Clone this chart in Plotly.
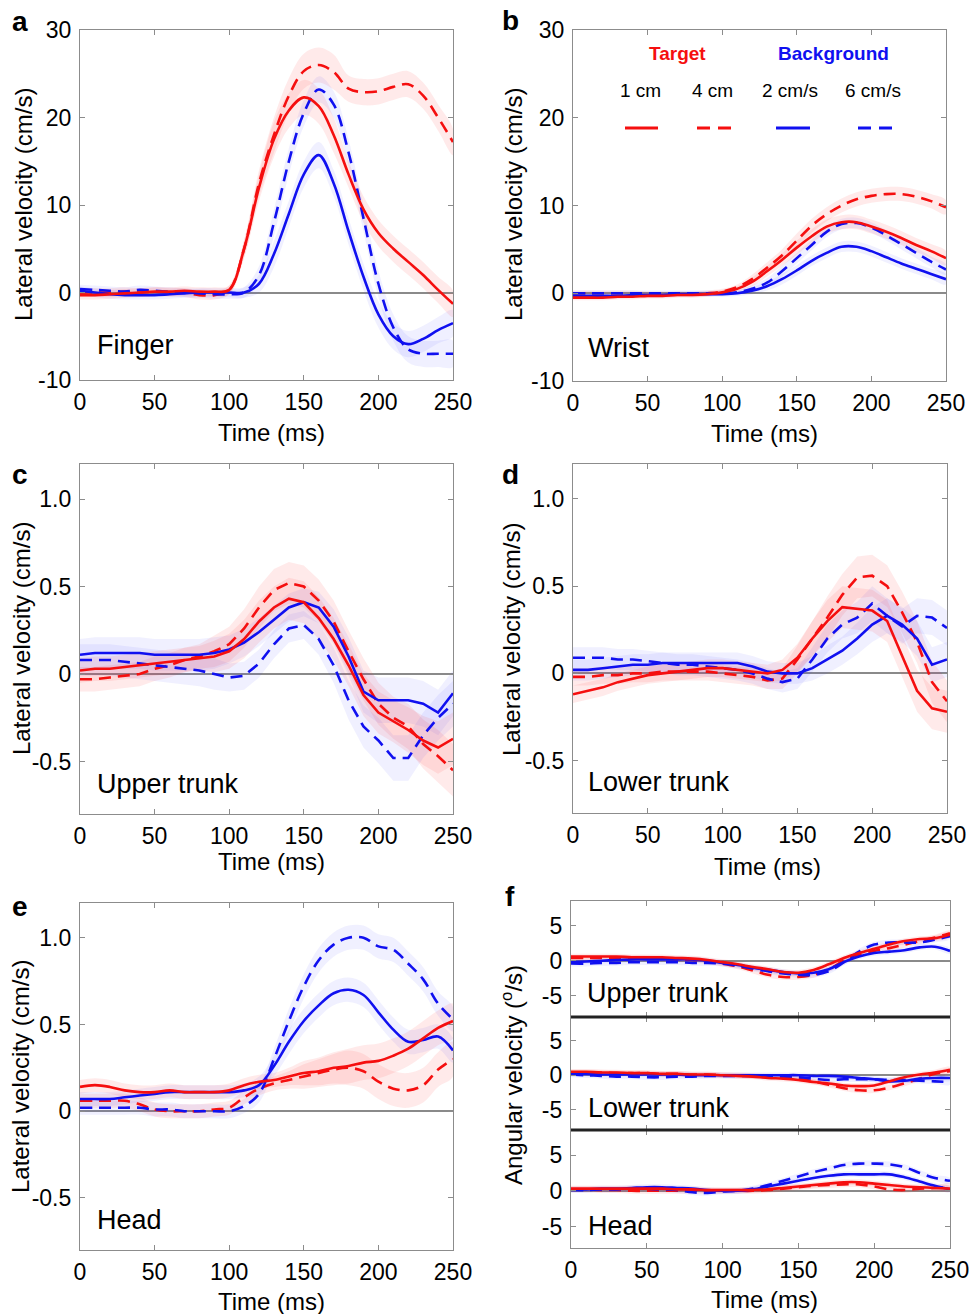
import plotly.graph_objects as go

W, H = 969, 1314
T = [0, 10, 20, 30, 40, 50, 60, 70, 80, 90, 100, 110, 120, 130, 140, 150, 160, 170, 180, 190, 200, 210, 220, 230, 240, 250]

# ---- panel a : Finger (cm/s)
a_red_solid = [-0.3, -0.3, -0.2, -0.1, 0, 0.1, 0.1, 0.2, 0.1, 0.1, 0.3, 5, 12, 17.5, 20.8, 22.3, 21.3, 18, 13.5, 9.5, 6.8, 5, 3.5, 2, 0.3, -1.3]
a_red_dash = [0, 0, 0, 0.1, 0, 0.1, 0, 0, -0.3, -0.3, 0.3, 5, 12.5, 18, 22.5, 25.3, 26, 25.2, 23.3, 22.9, 23, 23.5, 23.8, 22.5, 20, 17.2]
a_blue_solid = [0.2, 0, -0.2, -0.3, -0.3, -0.3, -0.2, -0.1, 0, 0, 0, 0, 1, 4.4, 9, 13.5, 15.7, 12.5, 7, 1.8, -2.5, -5, -5.9, -5.3, -4.3, -3.5]
a_blue_dash = [0.4, 0.3, 0.2, 0.1, 0.3, 0.2, 0.1, 0, -0.1, -0.2, -0.2, 0, 2, 8, 15, 20.5, 23.2, 21.5, 16, 8.5, 1, -4, -6.5, -7, -7, -7]
a_red_sd = [0.5] * 11 + [1.0, 1.5, 2, 2, 2, 2, 2, 1.5, 1.5, 1.5, 1.5, 1.5, 1.5, 1.5, 1.5]
a_blue_sd = [0.5] * 11 + [0.6, 1.0, 1.5, 1.5, 1.5, 1.5, 1.5, 1.5, 1.5, 1.5, 1.5, 1.5, 1.5, 1.5, 1.5]

# ---- panel b : Wrist (cm/s)
b_red_solid = [-0.5, -0.5, -0.5, -0.4, -0.4, -0.3, -0.3, -0.2, -0.2, -0.1, 0.1, 0.5, 1.3, 2.5, 3.8, 5.2, 6.5, 7.6, 8.1, 8.1, 7.6, 7.0, 6.3, 5.5, 4.8, 4.0]
b_red_dash = [0, 0, 0, 0, 0, -0.1, -0.1, -0.1, -0.1, 0, 0.2, 0.7, 1.6, 2.9, 4.3, 6.0, 7.7, 9.0, 10.0, 10.7, 11.1, 11.3, 11.3, 11.0, 10.5, 9.8]
b_blue_solid = [-0.3, -0.3, -0.3, -0.3, -0.2, -0.2, -0.2, -0.1, -0.1, -0.1, -0.1, 0, 0.3, 0.8, 1.6, 2.6, 3.7, 4.6, 5.3, 5.3, 4.8, 4.1, 3.4, 2.8, 2.2, 1.6]
b_blue_dash = [0, 0, 0, 0, 0, 0, 0, 0, 0, 0, 0, 0.1, 0.5, 1.2, 2.5, 4.0, 5.5, 7.0, 7.9, 8.0, 7.5, 6.6, 5.6, 4.6, 3.6, 2.7]
b_red_sd = [0.3] * 12 + [0.5, 0.6, 0.7, 0.8, 0.8, 0.8, 0.8, 0.8, 0.8, 0.8, 0.8, 0.8, 0.8, 0.8]
b_blue_sd = [0.3] * 12 + [0.4, 0.5, 0.6, 0.6, 0.6, 0.6, 0.6, 0.6, 0.6, 0.6, 0.6, 0.6, 0.6, 0.6]

# ---- panel c : Upper trunk (cm/s)
c_red_solid = [0.02, 0.03, 0.03, 0.04, 0.05, 0.06, 0.07, 0.08, 0.09, 0.1, 0.13, 0.2, 0.3, 0.38, 0.43, 0.41, 0.32, 0.2, 0.05, -0.12, -0.22, -0.27, -0.32, -0.38, -0.42, -0.37]
c_red_dash = [-0.03, -0.03, -0.02, -0.01, 0.0, 0.03, 0.05, 0.08, 0.1, 0.13, 0.17, 0.26, 0.38, 0.48, 0.52, 0.5, 0.42, 0.3, 0.13, -0.03, -0.17, -0.25, -0.3, -0.4, -0.47, -0.55]
c_blue_solid = [0.11, 0.12, 0.12, 0.12, 0.12, 0.11, 0.11, 0.11, 0.11, 0.12, 0.14, 0.18, 0.24, 0.31, 0.38, 0.41, 0.38, 0.27, 0.1, -0.1, -0.15, -0.15, -0.15, -0.17, -0.22, -0.11]
c_blue_dash = [0.08, 0.08, 0.08, 0.07, 0.06, 0.05, 0.04, 0.03, 0.02, 0.0, -0.02, -0.01, 0.06, 0.17, 0.26, 0.28, 0.2, 0.05, -0.15, -0.3, -0.38, -0.48, -0.48, -0.35, -0.25, -0.17]
c_red_sd = [0.07] * 9 + [0.09, 0.1, 0.11, 0.12, 0.12, 0.12, 0.12, 0.12, 0.12, 0.12, 0.12, 0.12, 0.12, 0.13, 0.14, 0.15, 0.15]
c_blue_sd = [0.09] * 10 + [0.08, 0.08, 0.08, 0.08, 0.08, 0.08, 0.09, 0.1, 0.11, 0.12, 0.13, 0.13, 0.13, 0.13, 0.13, 0.13]

# ---- panel d : Lower trunk (cm/s)
d_red_solid = [-0.12, -0.1, -0.08, -0.05, -0.03, -0.01, 0.0, 0.01, 0.02, 0.03, 0.03, 0.02, 0.01, 0.0, 0.02, 0.09, 0.2, 0.3, 0.38, 0.37, 0.36, 0.3, 0.1, -0.1, -0.2, -0.22]
d_red_dash = [-0.02, -0.02, -0.01, -0.01, 0.0, 0.0, 0.01, 0.01, 0.01, 0.01, 0.0, -0.01, -0.02, -0.04, -0.03, 0.08, 0.2, 0.32, 0.45, 0.55, 0.56, 0.5, 0.35, 0.18, -0.05, -0.16]
d_blue_solid = [0.02, 0.02, 0.03, 0.04, 0.05, 0.05, 0.06, 0.06, 0.06, 0.06, 0.06, 0.06, 0.04, 0.01, 0.0, 0.0, 0.03, 0.08, 0.13, 0.2, 0.28, 0.33, 0.28, 0.2, 0.05, 0.08]
d_blue_dash = [0.09, 0.09, 0.09, 0.08, 0.08, 0.07, 0.06, 0.05, 0.05, 0.04, 0.03, 0.02, 0.0, -0.03, -0.05, -0.03, 0.08, 0.2, 0.28, 0.32, 0.4, 0.33, 0.27, 0.33, 0.32, 0.26]
d_red_sd = [0.05] * 14 + [0.06, 0.08, 0.1, 0.12, 0.12, 0.12, 0.12, 0.12, 0.12, 0.12, 0.12, 0.12]
d_blue_sd = [0.06] * 14 + [0.06, 0.06, 0.07, 0.08, 0.08, 0.09, 0.1, 0.1, 0.1, 0.1, 0.1, 0.1]

# ---- panel e : Head (cm/s)
e_red_solid = [0.14, 0.15, 0.14, 0.12, 0.11, 0.11, 0.12, 0.11, 0.11, 0.11, 0.12, 0.15, 0.17, 0.18, 0.2, 0.22, 0.23, 0.25, 0.26, 0.28, 0.29, 0.32, 0.36, 0.42, 0.48, 0.52]
e_red_dash = [0.06, 0.06, 0.06, 0.06, 0.04, 0.01, 0.0, 0.0, 0.0, 0.01, 0.02, 0.08, 0.13, 0.16, 0.18, 0.2, 0.22, 0.24, 0.25, 0.23, 0.17, 0.13, 0.12, 0.15, 0.24, 0.3]
e_blue_solid = [0.07, 0.07, 0.07, 0.08, 0.09, 0.1, 0.11, 0.11, 0.11, 0.11, 0.11, 0.12, 0.15, 0.26, 0.4, 0.52, 0.61, 0.68, 0.7, 0.67, 0.57, 0.47, 0.4, 0.41, 0.43, 0.35]
e_blue_dash = [0.02, 0.02, 0.02, 0.02, 0.02, 0.01, 0.01, 0.0, 0.0, 0.0, 0.0, 0.03, 0.1, 0.3, 0.52, 0.72, 0.87, 0.96, 1.0, 1.0, 0.95, 0.93, 0.85, 0.76, 0.62, 0.53]
e_red_sd = [0.04] * 14 + [0.05, 0.07, 0.08, 0.09, 0.1, 0.1, 0.1, 0.1, 0.1, 0.1, 0.1, 0.1]
e_blue_sd = [0.04] * 12 + [0.05, 0.06, 0.07, 0.07, 0.07, 0.07, 0.07, 0.07, 0.07, 0.07, 0.07, 0.07, 0.07, 0.07]

# ---- panel f : angular velocity (deg/s)
fu_red_solid = [0.6, 0.6, 0.6, 0.6, 0.5, 0.5, 0.5, 0.4, 0.3, 0.1, -0.2, -0.5, -0.9, -1.2, -1.6, -1.7, -1.3, -0.5, 0.4, 1.1, 1.7, 2.3, 2.8, 3.1, 3.2, 3.7]
fu_red_dash = [0.4, 0.4, 0.4, 0.4, 0.4, 0.4, 0.3, 0.2, 0.1, -0.1, -0.4, -0.8, -1.4, -2.0, -2.3, -2.3, -2.0, -1.2, 0.0, 0.9, 1.4, 1.8, 2.3, 2.8, 3.3, 3.9]
fu_blue_solid = [-0.2, -0.1, 0, 0.1, 0.2, 0.2, 0.2, 0.2, 0.2, 0, -0.3, -0.6, -1.0, -1.3, -1.6, -1.8, -1.7, -1.2, -0.2, 0.6, 1.1, 1.3, 1.5, 1.9, 2.0, 1.4]
fu_blue_dash = [-0.4, -0.4, -0.3, -0.3, -0.2, -0.2, -0.2, -0.2, -0.3, -0.3, -0.4, -0.7, -1.1, -1.5, -1.8, -2.0, -2.0, -1.5, -0.2, 1.3, 2.3, 2.6, 2.6, 2.6, 3.0, 3.5]

fl_red_solid = [0.5, 0.5, 0.4, 0.4, 0.3, 0.3, 0.2, 0.2, 0.1, 0.1, 0, -0.1, -0.2, -0.4, -0.5, -0.7, -1.0, -1.2, -1.5, -1.6, -1.5, -0.9, -0.3, 0.1, 0.4, 0.8]
fl_red_dash = [0.4, 0.4, 0.4, 0.3, 0.3, 0.3, 0.2, 0.2, 0.1, 0.1, 0, 0, -0.1, -0.2, -0.3, -0.5, -0.9, -1.4, -1.9, -2.2, -2.2, -1.8, -1.2, -0.5, 0.2, 0.6]
fl_blue_solid = [0.2, 0.2, 0.1, 0.1, 0.1, 0.1, 0.1, 0.1, 0, 0, 0, 0, 0, 0, 0, 0, -0.1, -0.1, -0.2, -0.4, -0.6, -0.9, -0.8, -0.5, -0.4, -0.4]
fl_blue_dash = [0.1, 0, -0.1, -0.2, -0.2, -0.3, -0.3, -0.2, -0.2, -0.1, -0.1, -0.1, -0.1, -0.2, -0.2, -0.3, -0.5, -0.7, -0.6, -0.6, -0.6, -0.7, -0.7, -0.8, -0.9, -1.0]

fh_red_solid = [0.3, 0.3, 0.3, 0.3, 0.3, 0.3, 0.3, 0.2, 0.2, 0.1, 0.1, 0.1, 0.1, 0.2, 0.4, 0.6, 0.8, 1.0, 1.2, 1.2, 1.0, 0.8, 0.6, 0.5, 0.4, 0.3]
fh_red_dash = [0.2, 0.2, 0.1, 0.1, 0.0, 0.0, 0.0, 0.0, 0.0, 0.0, 0.0, 0.0, 0.0, 0.1, 0.3, 0.5, 0.7, 0.8, 0.9, 0.9, 0.6, 0.2, 0.1, 0.3, 0.4, 0.6]
fh_blue_solid = [0.2, 0.2, 0.3, 0.3, 0.4, 0.5, 0.5, 0.4, 0.3, 0.1, 0.0, 0.0, 0.2, 0.6, 1.0, 1.4, 1.8, 2.1, 2.3, 2.3, 2.3, 2.3, 1.9, 1.3, 0.7, 0.2]
fh_blue_dash = [0.1, 0.1, 0.2, 0.2, 0.3, 0.3, 0.2, 0.1, -0.2, -0.3, -0.1, 0.0, 0.3, 0.8, 1.4, 2.0, 2.6, 3.1, 3.6, 3.8, 3.8, 3.7, 3.3, 2.5, 1.8, 1.4]
f_sd = 0.4

RED = "#f50f0f"
BLUE = "#1010f0"
RED_BAND = "rgba(255,60,60,0.11)"
BLUE_BAND = "rgba(60,60,255,0.08)"
DASH = "12px,7px"
FONT = "Liberation Sans, Arial, Helvetica, sans-serif"

fig = go.Figure()


def px_x(p):
    return p / W


def px_y(p):
    return 1 - p / H


def add_series(ax, y, sd, color, band, dashed, shape):
    xs = "x" if ax == 1 else f"x{ax}"
    ys = "y" if ax == 1 else f"y{ax}"
    sds = sd if isinstance(sd, list) else [sd] * len(y)
    up = [v + s for v, s in zip(y, sds)]
    lo = [v - s for v, s in zip(y, sds)]
    fig.add_trace(go.Scatter(x=T + T[::-1], y=up + lo[::-1], fill="toself", fillcolor=band,
                             line=dict(width=0, shape=shape), mode="lines", hoverinfo="skip",
                             showlegend=False, xaxis=xs, yaxis=ys))
    return dict(x=T, y=y, mode="lines", showlegend=False, xaxis=xs, yaxis=ys,
                line=dict(color=color, width=2.6, dash=DASH if dashed else "solid", shape=shape))


panels = [
    (1, a_red_solid, a_red_dash, a_blue_solid, a_blue_dash, a_red_sd, a_blue_sd, "spline"),
    (2, b_red_solid, b_red_dash, b_blue_solid, b_blue_dash, b_red_sd, b_blue_sd, "spline"),
    (3, c_red_solid, c_red_dash, c_blue_solid, c_blue_dash, c_red_sd, c_blue_sd, "linear"),
    (4, d_red_solid, d_red_dash, d_blue_solid, d_blue_dash, d_red_sd, d_blue_sd, "linear"),
    (5, e_red_solid, e_red_dash, e_blue_solid, e_blue_dash, e_red_sd, e_blue_sd, "spline"),
    (6, fu_red_solid, fu_red_dash, fu_blue_solid, fu_blue_dash, f_sd, f_sd, "spline"),
    (7, fl_red_solid, fl_red_dash, fl_blue_solid, fl_blue_dash, f_sd, f_sd, "spline"),
    (8, fh_red_solid, fh_red_dash, fh_blue_solid, fh_blue_dash, f_sd, f_sd, "spline"),
]

for ax, rs, rd, bs, bd, rsd, bsd, shp in panels:
    lines = []
    lines.append(add_series(ax, rd, rsd, RED, RED_BAND, True, shp))
    lines.append(add_series(ax, bd, bsd, BLUE, BLUE_BAND, True, shp))
    lines.append(add_series(ax, bs, bsd, BLUE, BLUE_BAND, False, shp))
    lines.append(add_series(ax, rs, rsd, RED, RED_BAND, False, shp))
    for l in lines:
        fig.add_trace(go.Scatter(**l))

# axes geometry in window pixels: (left, right, top, bottom)
geo = {
    1: (80, 453, 30, 380),
    2: (573, 946, 30, 381),
    3: (80, 453, 464, 814),
    4: (573, 947, 464, 813),
    5: (80, 453, 903, 1250),
    6: (571, 950, 901, 1017),
    7: (571, 950, 1017, 1130),
    8: (571, 950, 1130, 1248),
}
yranges = {1: [-10, 30], 2: [-10, 30], 3: [-0.8, 1.2], 4: [-0.8, 1.2], 5: [-0.8, 1.2],
           6: [-8, 8.5], 7: [-8, 8.5], 8: [-8, 8.5]}
ytickv = {1: [-10, 0, 10, 20, 30], 2: [-10, 0, 10, 20, 30],
          3: [-0.5, 0, 0.5, 1.0], 4: [-0.5, 0, 0.5, 1.0], 5: [-0.5, 0, 0.5, 1.0],
          6: [-5, 0, 5], 7: [-5, 0, 5], 8: [-5, 0, 5]}
ytickt = {1: ["-10", "0", "10", "20", "30"], 2: ["-10", "0", "10", "20", "30"],
          3: ["-0.5", "0", "0.5", "1.0"], 4: ["-0.5", "0", "0.5", "1.0"], 5: ["-0.5", "0", "0.5", "1.0"],
          6: ["-5", "0", "5"], 7: ["-5", "0", "5"], 8: ["-5", "0", "5"]}
xtickv = [0, 50, 100, 150, 200, 250]

FRAME = "#8c8c8c"
layout = dict(width=W, height=H, margin=dict(l=0, r=0, t=0, b=0, autoexpand=False),
              paper_bgcolor="white", plot_bgcolor="white",
              font=dict(family=FONT, color="black", size=22), showlegend=False)

for ax, (l, r, t, b) in geo.items():
    xk = "xaxis" if ax == 1 else f"xaxis{ax}"
    yk = "yaxis" if ax == 1 else f"yaxis{ax}"
    ya = "y" if ax == 1 else f"y{ax}"
    xa = "x" if ax == 1 else f"x{ax}"
    show_x = ax not in (6, 7)
    layout[xk] = dict(domain=[px_x(l), px_x(r)], anchor=ya, range=[0, 250], automargin=False,
                      tickvals=xtickv, ticktext=[str(v) for v in xtickv], showticklabels=show_x,
                      ticks="inside", ticklen=5, tickcolor=FRAME, showline=True, mirror="ticks",
                      linecolor=FRAME, linewidth=1.2, showgrid=False, zeroline=False,
                      ticklabelstandoff=1, ticklabeloverflow="allow", tickfont=dict(size=23))
    layout[yk] = dict(domain=[px_y(b), px_y(t)], anchor=xa, range=yranges[ax], automargin=False,
                      tickvals=ytickv[ax], ticktext=ytickt[ax],
                      ticks="inside", ticklen=5, tickcolor=FRAME, showline=True, mirror="ticks",
                      linecolor=FRAME, linewidth=1.2, showgrid=False, zeroline=True,
                      zerolinecolor="#8a8a8a", zerolinewidth=1.5, ticklabelstandoff=3,
                      ticklabeloverflow="allow", tickfont=dict(size=23))

fig.update_layout(**layout)

ann = []


def text(x, y, s, size=22, bold=False, color="black", xanchor="center", yanchor="middle", angle=0):
    ann.append(dict(x=px_x(x), y=px_y(y), xref="paper", yref="paper", text=f"<b>{s}</b>" if bold else s,
                    showarrow=False, font=dict(size=size, color=color, family=FONT),
                    xanchor=xanchor, yanchor=yanchor, textangle=angle))


# panel letters
for lt, x, y in [("a", 10, 22), ("b", 500, 20), ("c", 10, 474), ("d", 500, 474), ("e", 10, 906), ("f", 503, 896)]:
    text(x, y, lt, size=28, bold=True, xanchor="left")

# x titles
for x, y in [(271, 432), (764, 433), (271, 861), (767, 866), (271, 1301), (764, 1299)]:
    text(x, y, "Time (ms)", size=24)

# y titles
for x, y in [(23, 205), (513, 205), (22, 639), (512, 639), (20, 1077)]:
    text(x, y, "Lateral velocity (cm/s)", size=24, angle=-90)
text(512, 1075, "Angular velocity (<sup>o</sup>/s)", size=24, angle=-90)

# inside labels
for s, x, y in [("Finger", 95, 345), ("Wrist", 586, 348), ("Upper trunk", 95, 784),
                ("Lower trunk", 586, 782), ("Head", 95, 1220), ("Upper trunk", 585, 993),
                ("Lower trunk", 586, 1108), ("Head", 586, 1226)]:
    text(x, y, s, size=27, xanchor="left")

# legend in panel b
text(677, 54, "Target", size=19, bold=True, color=RED)
text(833, 54, "Background", size=19, bold=True, color=BLUE)
for s, x in [("1 cm", 640), ("4 cm", 712), ("2 cm/s", 790), ("6 cm/s", 873)]:
    text(x, 91, s, size=19)

shapes = []
for x0, x1, c, d in [(625, 658, RED, "solid"), (697, 731, RED, "13px,8px"),
                     (776, 810, BLUE, "solid"), (858, 892, BLUE, "13px,8px")]:
    shapes.append(dict(type="line", xref="paper", yref="paper", x0=px_x(x0), x1=px_x(x1),
                       y0=px_y(128), y1=px_y(128), line=dict(color=c, width=3, dash=d)))
# thick separators in panel f
for yy in (1017, 1130):
    shapes.append(dict(type="line", xref="paper", yref="paper", x0=px_x(571), x1=px_x(950),
                       y0=px_y(yy), y1=px_y(yy), line=dict(color="#222", width=3)))

fig.update_layout(annotations=ann, shapes=shapes)
fig.write_html("out.html", config={"displayModeBar": False},
               post_script="document.body.style.margin='0';document.body.style.overflow='hidden';")
